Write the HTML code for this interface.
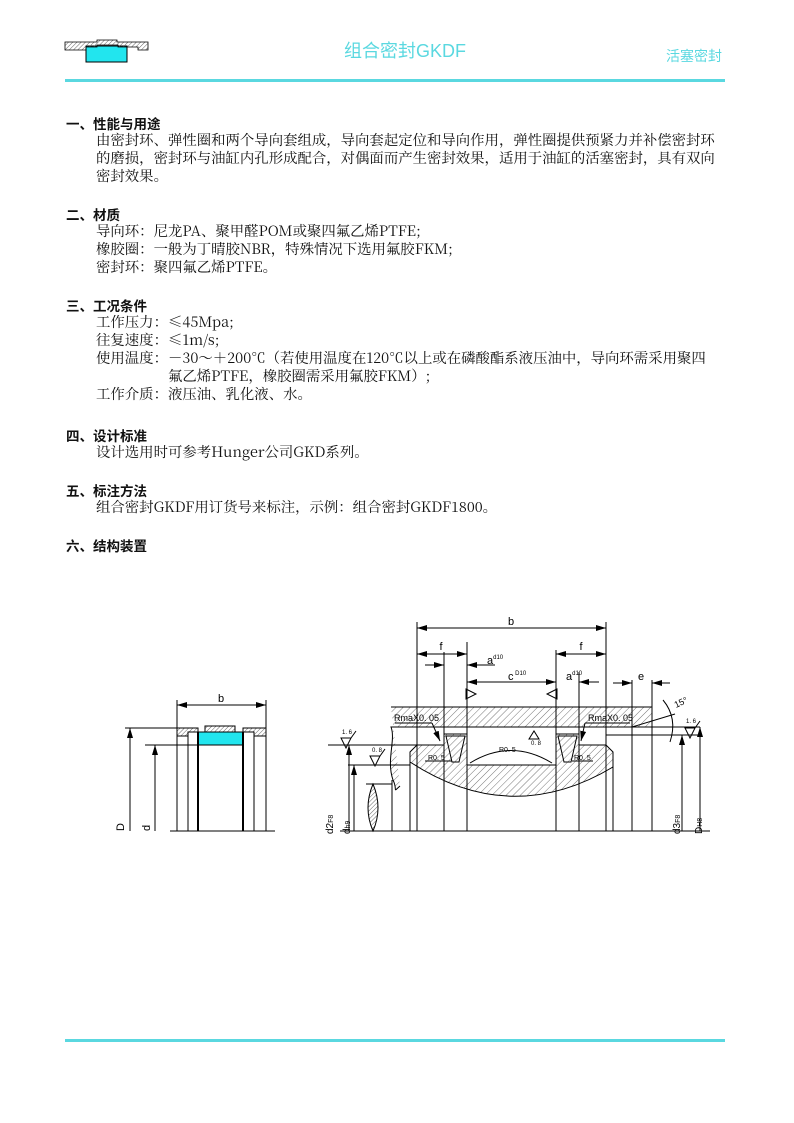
<!DOCTYPE html>
<html><head><meta charset="utf-8"><style>
body{margin:0;width:794px;height:1123px;background:#fff;position:relative;font-family:"Noto Serif CJK SC","Liberation Serif",serif;color:#111;overflow:hidden}
.t{position:absolute;font-size:14.4px;white-space:nowrap;line-height:18px}
.h{position:absolute;font-size:13.5px;font-family:"Noto Sans CJK SC","Liberation Sans",sans-serif;font-weight:bold;white-space:nowrap}
</style></head><body>
<svg width="794" height="1123" style="position:absolute;left:0;top:0" font-family="Liberation Sans, sans-serif">
<defs><pattern id="hp" width="5" height="5" patternUnits="userSpaceOnUse" patternTransform="rotate(45)"><line x1="0" y1="0" x2="0" y2="5" stroke="#777" stroke-width="1"/></pattern>
<pattern id="hp2" width="3" height="3" patternUnits="userSpaceOnUse" patternTransform="rotate(45)"><line x1="0" y1="0" x2="0" y2="3" stroke="#666" stroke-width="1"/></pattern>
<marker id="a" viewBox="0 0 10 6" refX="10" refY="3" markerWidth="10" markerHeight="6" orient="auto-start-reverse" markerUnits="userSpaceOnUse"><path d="M0 0 L10 3 L0 6Z" fill="#000"/></marker></defs>
<!-- header icon -->
<rect x="86" y="46" width="41" height="16" fill="#22e5ee" stroke="#000"/>
<path d="M65 42 H97 V40 H117 V42 H148 V50 H138 V47 H118 V45 H97 V47 H86 V50 H65Z" fill="url(#hp2)" stroke="#000" stroke-width="0.8"/>
<text x="405" y="57" font-size="18" fill="#5ad8e0" text-anchor="middle" font-family="Liberation Sans, Noto Sans CJK SC, sans-serif">组合密封GKDF</text>
<text x="722" y="61" font-size="14" fill="#5ad8e0" text-anchor="end" font-family="Liberation Sans, Noto Sans CJK SC, sans-serif">活塞密封</text>
<rect x="65" y="79" width="660" height="3" fill="#5ad8e0"/>
<rect x="65" y="1039" width="660" height="3" fill="#5ad8e0"/>

<!-- small diagram -->
<g stroke="#000" fill="none" stroke-width="1">
<line x1="177" y1="700" x2="177" y2="831"/><line x1="266" y1="700" x2="266" y2="831"/>
<line x1="177" y1="705" x2="266" y2="705" marker-start="url(#a)" marker-end="url(#a)"/>
<path d="M177 728 H198 V732 H243 V728 H266 V736 H254 V732 H188 V736 H177Z" fill="url(#hp2)"/>
<rect x="205" y="726" width="30" height="6" fill="url(#hp2)"/>
<rect x="198" y="732" width="45" height="13" fill="#22e5ee"/>
<line x1="188" y1="732" x2="188" y2="831"/><line x1="254" y1="732" x2="254" y2="831"/>
<line x1="198" y1="732" x2="198" y2="831" stroke-width="2"/><line x1="243" y1="732" x2="243" y2="831" stroke-width="2"/>
<line x1="125" y1="728" x2="177" y2="728"/><line x1="145" y1="745" x2="198" y2="745"/>
<line x1="130" y1="831" x2="130" y2="728" marker-end="url(#a)"/><line x1="155" y1="831" x2="155" y2="745" marker-end="url(#a)"/>
<line x1="170" y1="831" x2="275" y2="831"/>
</g>
<text x="221" y="702" font-size="11" text-anchor="middle">b</text>
<text x="124" y="831" font-size="11" transform="rotate(-90 124 831)">D</text>
<text x="150" y="831" font-size="11" transform="rotate(-90 150 831)">d</text>

<!-- large diagram -->
<g stroke="#000" fill="none" stroke-width="1">
<path d="M391 707 H652 V727 H391 C396 740 386 760 393 780 C398 790 392 793 400 786" fill="url(#hp)"/>
<path d="M410 752 L417 745 L444 745 L444 734 L467 734 L467 765 L556 765 L556 734 L579 734 L579 745 L606 745 L613 752 L613 767 Q511 828 410 762 Z" fill="url(#hp)"/>
<line x1="444" y1="734" x2="444" y2="765"/><line x1="579" y1="734" x2="579" y2="765"/>
<path d="M446 736 L465 736 L459 762 L452 762Z"/><path d="M558 736 L577 736 L571 762 L564 762Z"/>
<line x1="417" y1="622" x2="417" y2="831"/><line x1="606" y1="622" x2="606" y2="831"/>
<line x1="444" y1="652" x2="444" y2="831"/><line x1="467" y1="642" x2="467" y2="831"/>
<line x1="556" y1="650" x2="556" y2="831"/><line x1="579" y1="672" x2="579" y2="831"/>
<line x1="632" y1="680" x2="632" y2="831"/><line x1="652" y1="680" x2="652" y2="707"/><line x1="652" y1="727" x2="652" y2="831"/>
<line x1="410" y1="762" x2="410" y2="831"/><line x1="613" y1="767" x2="613" y2="831"/>
<line x1="392" y1="780" x2="392" y2="831"/>
<line x1="417" y1="628" x2="606" y2="628" marker-start="url(#a)" marker-end="url(#a)"/>
<line x1="417" y1="654" x2="467" y2="654" marker-start="url(#a)" marker-end="url(#a)"/>
<line x1="556" y1="654" x2="606" y2="654" marker-start="url(#a)" marker-end="url(#a)"/>
<line x1="425" y1="665" x2="444" y2="665" marker-end="url(#a)"/><line x1="467" y1="665" x2="495" y2="665" marker-start="url(#a)"/>
<line x1="467" y1="682" x2="556" y2="682" marker-start="url(#a)" marker-end="url(#a)"/>
<line x1="579" y1="682" x2="599" y2="682" marker-start="url(#a)"/>
<line x1="613" y1="683" x2="632" y2="683" marker-end="url(#a)"/><line x1="652" y1="683" x2="670" y2="683" marker-start="url(#a)"/>
<line x1="328" y1="745" x2="417" y2="745"/><line x1="348" y1="765" x2="410" y2="765"/>
<line x1="349" y1="831" x2="349" y2="745" marker-end="url(#a)"/><line x1="354" y1="831" x2="354" y2="765" marker-end="url(#a)"/>
<line x1="366" y1="784" x2="392" y2="784"/>
<path d="M373 784 Q363 808 373 831 Q383 808 373 784Z" fill="url(#hp2)"/>
<line x1="606" y1="735" x2="700" y2="735"/><line x1="652" y1="727" x2="700" y2="727"/>
<line x1="682" y1="831" x2="682" y2="735" marker-end="url(#a)"/><line x1="700" y1="831" x2="700" y2="727" marker-end="url(#a)"/>
<line x1="340" y1="831" x2="710" y2="831"/>
<path d="M663 700 Q678 718 670 742"/>
<line x1="632" y1="727" x2="675" y2="714"/>
<line x1="395" y1="723" x2="432" y2="723"/><line x1="432" y1="723" x2="440" y2="741" marker-end="url(#a)"/>
<line x1="585" y1="723" x2="630" y2="723"/><line x1="585" y1="723" x2="581" y2="741" marker-end="url(#a)"/>
<line x1="425" y1="761" x2="452" y2="761"/><line x1="572" y1="761" x2="593" y2="761"/>
<path d="M470 763 Q511 738 552 763"/>
<path d="M341 738 L346 748 L351 738 Z M351 738 L356 731"/>
<path d="M370 756 L375 766 L380 756 Z M380 756 L385 749"/>
<path d="M685 728 L690 738 L695 728 Z M695 728 L700 721"/>
<path d="M466 689 L476 694 L466 699 Z"/><path d="M557 689 L547 694 L557 699 Z"/>
<path d="M529 739 L534 731 L539 739 Z"/>
</g>
<g font-size="9">
<text x="511" y="625" font-size="11" text-anchor="middle">b</text>
<text x="441" y="650" font-size="11" text-anchor="middle">f</text>
<text x="581" y="650" font-size="11" text-anchor="middle">f</text>
<text x="487" y="664" font-size="11">a<tspan font-size="6" dy="-5">d10</tspan></text>
<text x="508" y="680" font-size="11">c<tspan font-size="6" dy="-5"> D10</tspan></text>
<text x="566" y="680" font-size="11">a<tspan font-size="6" dy="-5">d10</tspan></text>
<text x="641" y="680" font-size="11" text-anchor="middle">e</text>
<text x="676" y="708" font-size="9" transform="rotate(-25 676 708)">15°</text>
<text x="394" y="721" font-size="9">RmaX0. 05</text>
<text x="588" y="721" font-size="9">RmaX0. 05</text>
<text x="428" y="760" font-size="7">R0. 5</text>
<text x="574" y="760" font-size="7">R0. 5</text>
<text x="499" y="752" font-size="7">R0. 5</text>
<text x="342" y="734" font-size="6">1. 6</text>
<text x="372" y="752" font-size="6">0. 8</text>
<text x="686" y="723" font-size="6">1. 6</text>
<text x="531" y="745" font-size="6">0. 8</text>
<text x="333" y="834" font-size="10" transform="rotate(-90 333 834)">d2<tspan font-size="7">F8</tspan></text>
<text x="350" y="834" font-size="10" transform="rotate(-90 350 834)">d<tspan font-size="7">h9</tspan></text>
<text x="680" y="834" font-size="10" transform="rotate(-90 680 834)">d3<tspan font-size="7">F8</tspan></text>
<text x="702" y="834" font-size="10" transform="rotate(-90 702 834)">D<tspan font-size="7">H8</tspan></text>
</g>
</svg>

<div class="h" style="left:66px;top:113px">一、性能与用途</div>
<div class="t" style="left:96px;top:131px">由密封环、弹性圈和两个导向套组成，导向套起定位和导向作用，弹性圈提供预紧力并补偿密封环</div>
<div class="t" style="left:96px;top:149px">的磨损，密封环与油缸内孔形成配合，对偶面而产生密封效果，适用于油缸的活塞密封，具有双向</div>
<div class="t" style="left:96px;top:167px">密封效果。</div>
<div class="h" style="left:66px;top:204px">二、材质</div>
<div class="t" style="left:96px;top:222px">导向环：尼龙PA、聚甲醛POM或聚四氟乙烯PTFE;</div>
<div class="t" style="left:96px;top:240px">橡胶圈：一般为丁晴胶NBR，特殊情况下选用氟胶FKM;</div>
<div class="t" style="left:96px;top:258px">密封环：聚四氟乙烯PTFE。</div>
<div class="h" style="left:66px;top:295px">三、工况条件</div>
<div class="t" style="left:96px;top:313px">工作压力：≤45Mpa;</div>
<div class="t" style="left:96px;top:331px">往复速度：≤1m/s;</div>
<div class="t" style="left:96px;top:349px">使用温度：－30～＋200℃（若使用温度在120℃以上或在磷酸酯系液压油中，导向环需采用聚四</div>
<div class="t" style="left:168px;top:367px">氟乙烯PTFE，橡胶圈需采用氟胶FKM）;</div>
<div class="t" style="left:96px;top:385px">工作介质：液压油、乳化液、水。</div>
<div class="h" style="left:66px;top:425px">四、设计标准</div>
<div class="t" style="left:96px;top:443px">设计选用时可参考Hunger公司GKD系列。</div>
<div class="h" style="left:66px;top:480px">五、标注方法</div>
<div class="t" style="left:96px;top:498px">组合密封GKDF用订货号来标注，示例：组合密封GKDF1800。</div>
<div class="h" style="left:66px;top:535px">六、结构装置</div>
</body></html>
